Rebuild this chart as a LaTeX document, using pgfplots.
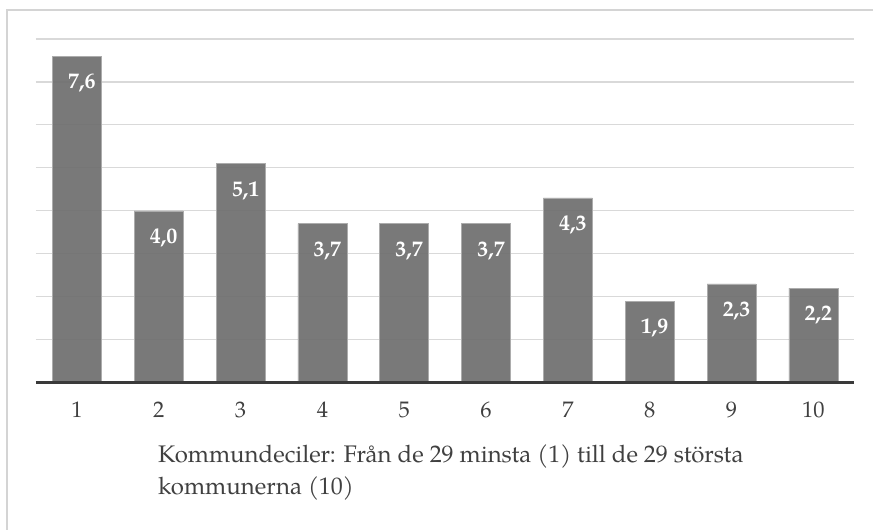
\documentclass[border=0pt]{standalone}
\usepackage{fontspec}
\setmainfont{TeX Gyre Pagella}
\usepackage{pgfplots}
\usepackage{pgfplotstable}
\pgfplotsset{compat=1.18}

\definecolor{barfill}{HTML}{6E6E6E}
\definecolor{gridc}{HTML}{D9D9D9}
\definecolor{txt}{HTML}{404040}
\definecolor{baseln}{HTML}{3A3A3A}
\definecolor{framec}{HTML}{D4D4D4}

\pgfplotstableread{
x y
1 7.6
2 4.0
3 5.1
4 3.7
5 3.7
6 3.7
7 4.3
8 1.9
9 2.3
10 2.2
}\deciles

\begin{document}
\begin{tikzpicture}[x=1pt,y=1pt]
% page is 874 x 530
\path (0,0) rectangle (874,530);
\draw[framec, line width=1.5pt] (7,0) -- (7,520) -- (874,520);
\begin{axis}[
  at={(36pt,147pt)}, anchor=south west,
  scale only axis, width=819pt, height=344pt,
  ybar, bar width=49pt,
  xmin=0.5, xmax=10.5, ymin=0, ymax=8,
  xtick=data, ytick={1,...,8}, yticklabels={},
  ymajorgrids, grid style={gridc, line width=1.2pt},
  axis line style={draw=none}, major tick length=0,
  /pgf/number format/assume math mode=true,
  xticklabel style={font=\fontsize{22.5}{26}\selectfont, text=txt, anchor=center, yshift=-27pt},
  nodes near coords={\pgfmathprintnumber[fixed, fixed zerofill, precision=1, use comma]{\pgfplotspointmeta}},
  every node near coord/.append style={font=\fontsize{22}{26}\selectfont\bfseries, text=white,
    text opacity=1, anchor=center, yshift=-27pt, xshift=5pt},
  clip=false,
]
\addplot[fill=barfill, fill opacity=0.92, draw=gray!65, line width=0.6pt] table[x=x, y=y] {\deciles};
\draw[baseln, line width=3pt] (rel axis cs:0,0) -- (rel axis cs:1,0);
\end{axis}
\begin{scope}[font=\fontsize{24}{28}\selectfont, text=txt]
\node[anchor=base west, inner sep=0] at (158,67) {Kommundeciler: Från de 29 minsta (1) till de 29 största};
\node[anchor=base west, inner sep=0] at (158,35) {kommunerna (10)};
\end{scope}
\end{tikzpicture}
\end{document}
